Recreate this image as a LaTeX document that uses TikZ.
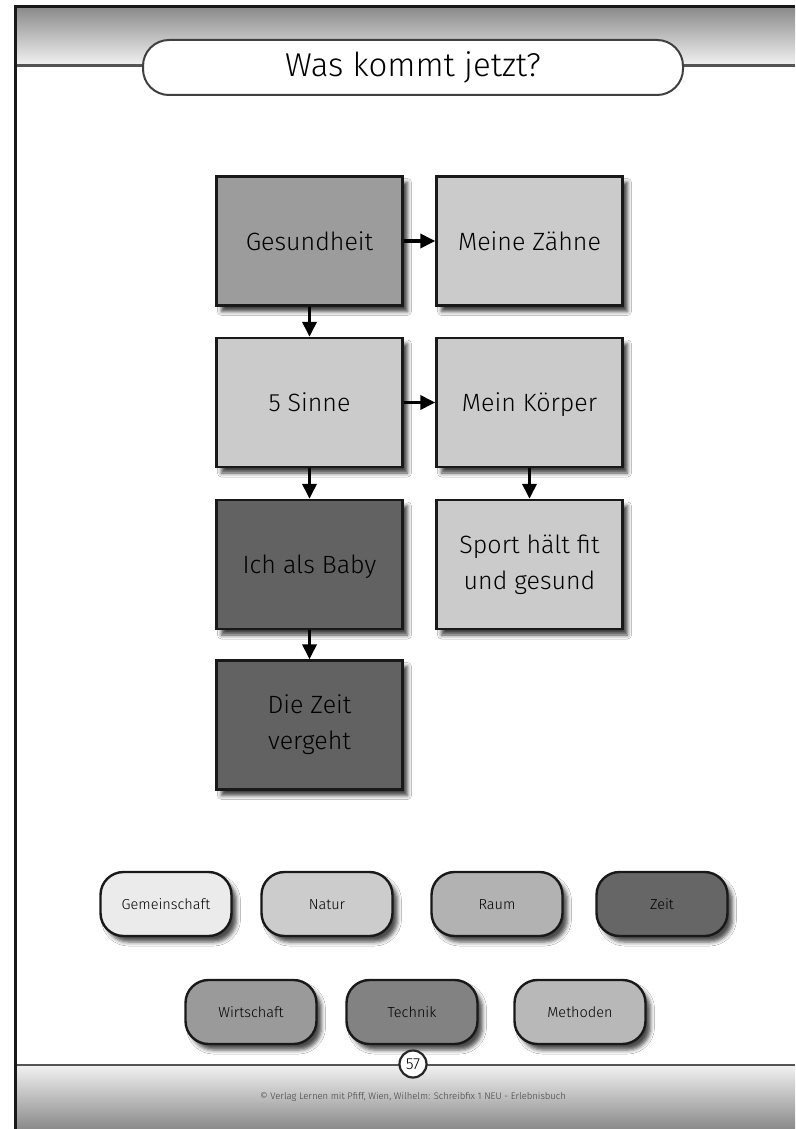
\documentclass[tikz,border=0pt]{standalone}
\usepackage{fontspec}
\setmainfont{Fira Sans}[UprightFont=* Light]
\usetikzlibrary{shapes.misc,arrows.meta,shadows.blur}
\definecolor{boxlight}{HTML}{CBCBCB}
\definecolor{boxmid}{HTML}{9C9C9C}
\definecolor{boxdark}{HTML}{626262}
\definecolor{pGem}{HTML}{EBEBEB}
\definecolor{pNat}{HTML}{CCCCCC}
\definecolor{pRaum}{HTML}{B2B2B2}
\definecolor{pZeit}{HTML}{666666}
\definecolor{pWirt}{HTML}{9A9A9A}
\definecolor{pTech}{HTML}{828282}
\definecolor{pMeth}{HTML}{B8B8B8}
\definecolor{bandDark}{HTML}{8A8A8A}
\definecolor{bandLight}{HTML}{F0F0F0}
\definecolor{rule}{HTML}{555555}
\begin{document}
\begin{tikzpicture}[x=1pt,y=-1pt,
  topicbox/.style={draw=black!90, line width=2.4pt, minimum width=186pt, minimum height=129pt,
    align=center, inner sep=2pt, font=\fontsize{25}{36}\selectfont,
    blur shadow={shadow xshift=5pt, shadow yshift=-6pt, shadow blur radius=4pt, shadow opacity=75}},
  oneline/.style={text height=18pt, text depth=0pt},
  pill/.style={rectangle, rounded corners=23pt, draw=black!90, line width=2.4pt, minimum width=131pt, minimum height=64pt,
    font=\fontsize{14.5}{17}\selectfont, inner sep=2pt, text height=10.5pt, text depth=0.5pt,
    blur shadow={shadow xshift=5pt, shadow yshift=-6pt, shadow blur radius=4pt, shadow opacity=70}},
  arr/.style={line width=3.5pt, -{Triangle[length=15pt,width=14pt]}, black}
]
\useasboundingbox (0,0) rectangle (795,1129);
\fill[white] (0,0) rectangle (795,1129);
% header band
\shade[top color=bandDark, bottom color=bandLight] (15,7) rectangle (795,64);
\draw[rule, line width=2.5pt] (15,65.5) -- (795,65.5);
% footer band
\shade[top color=bandLight, bottom color=bandDark] (15,1066) rectangle (795,1129);
\draw[rule, line width=2.5pt] (15,1065) -- (795,1065);
% page frame
\draw[black!90, line width=3pt] (15,1129) -- (15,7) -- (795,7);
% title
\node[rectangle, rounded corners=26pt, draw=black!75, line width=2pt, fill=white, minimum width=540pt, minimum height=55pt,
  font=\fontsize{33}{38}\selectfont] (title) at (413,67.5) {Was kommt jetzt?};
% topic boxes
\node[topicbox, oneline, fill=boxmid] (ges) at (309.5,241) {Gesundheit};
\node[topicbox, oneline, fill=boxlight] (zae) at (529.5,241) {Meine Zähne};
\node[topicbox, oneline, fill=boxlight] (sin) at (309.5,402.5) {5 Sinne};
\node[topicbox, oneline, fill=boxlight] (koe) at (529.5,402.5) {Mein Körper};
\node[topicbox, oneline, fill=boxdark] (bab) at (309.5,564.5) {Ich als Baby};
\node[topicbox, fill=boxlight] (spo) at (529.5,564.5) {Sport hält fit\\und gesund};
\node[topicbox, fill=boxdark] (zei) at (309.5,725) {Die Zeit\\vergeht};
% arrows
\draw[arr] (ges.east) -- (zae.west);
\draw[arr] (ges.south) -- (sin.north);
\draw[arr] (sin.east) -- (koe.west);
\draw[arr] (sin.south) -- (bab.north);
\draw[arr] (bab.south) -- (zei.north);
\draw[arr] (koe.south) -- (spo.north);
% pills
\node[pill, fill=pGem] (p1) at (166,904) {Gemeinschaft};
\node[pill, fill=pNat] (p2) at (327,904) {Natur};
\node[pill, fill=pRaum] (p3) at (497,904) {Raum};
\node[pill, fill=pZeit] (p4) at (662,904) {Zeit};
\node[pill, fill=pWirt] (p5) at (251,1012) {Wirtschaft};
\node[pill, fill=pTech] (p6) at (412,1012) {Technik};
\node[pill, fill=pMeth] (p7) at (580,1012) {Methoden};
% page number and footer
\node[circle, draw=black!85, line width=2.2pt, fill=white, minimum size=27pt, inner sep=0pt,
  font=\fontsize{16}{18}\selectfont] (pg) at (413,1064) {57};
\node[font=\fontsize{9.5}{11}\selectfont, text=black!75] (foot) at (413,1097)
  {© Verlag Lernen mit Pfiff, Wien, Wilhelm: Schreibfix 1 NEU - Erlebnisbuch};
\end{tikzpicture}
\end{document}
